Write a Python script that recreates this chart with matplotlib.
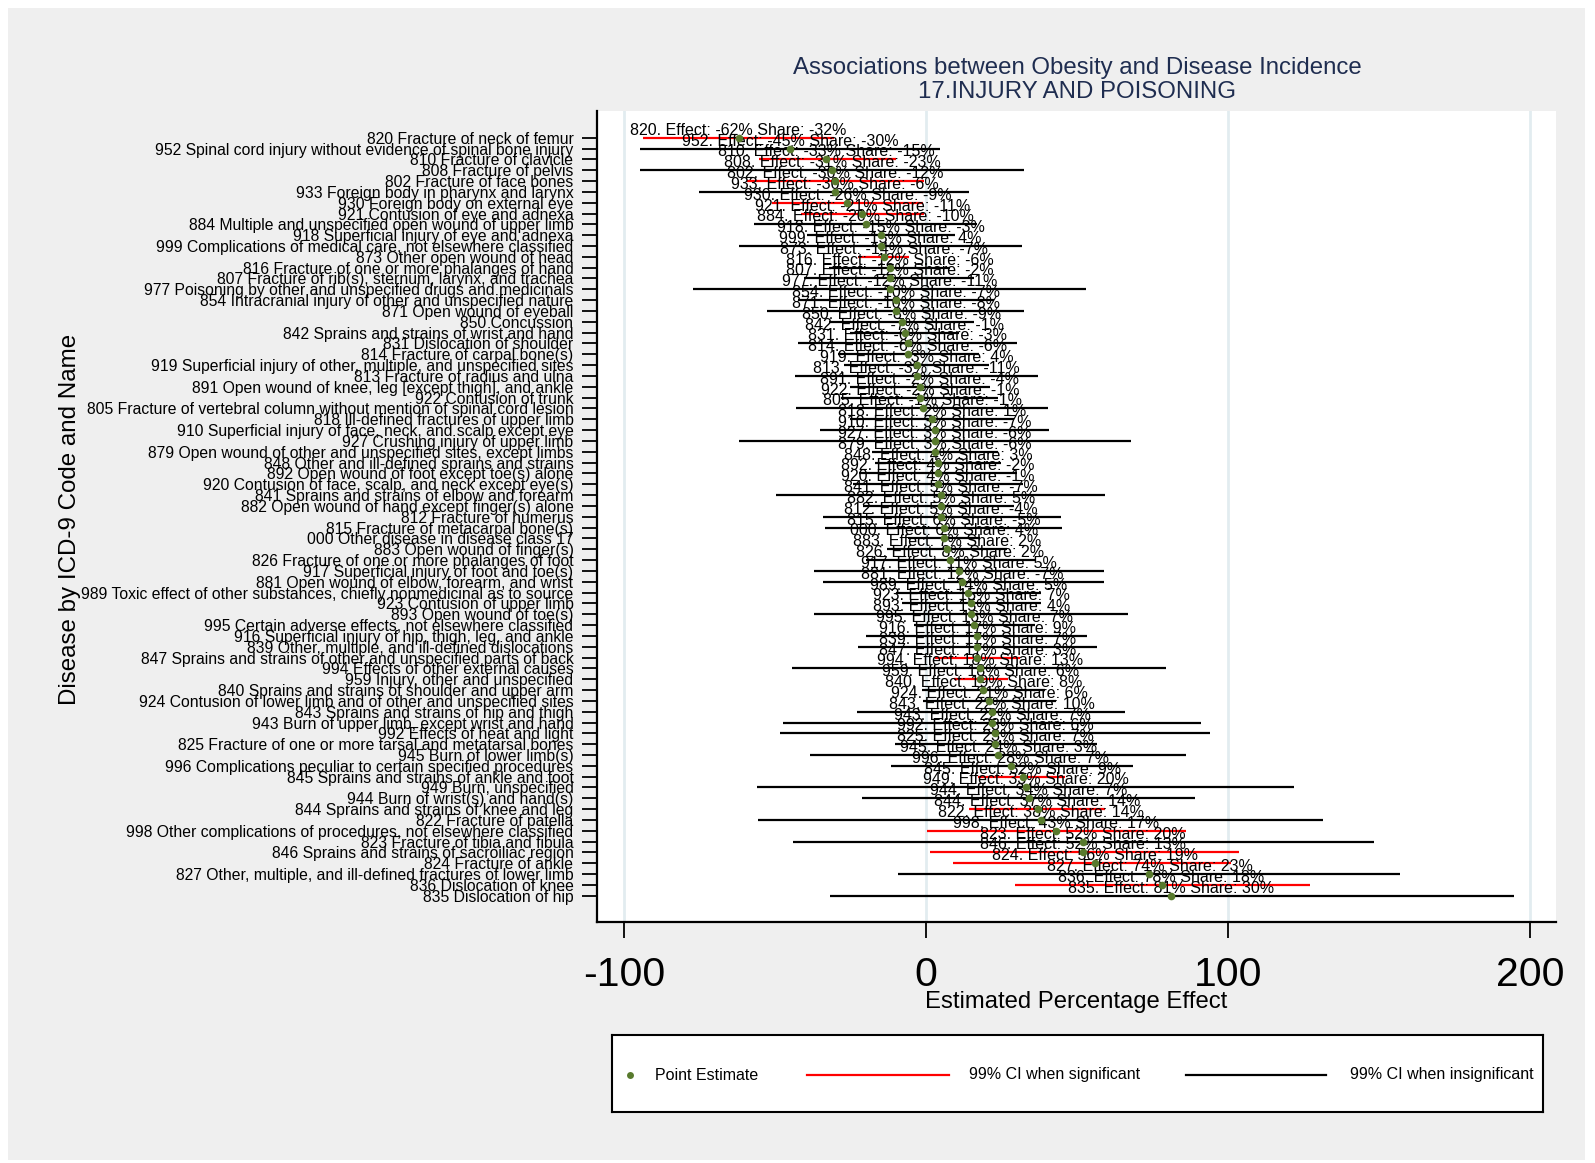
import matplotlib
matplotlib.use("Agg")
import matplotlib.pyplot as plt
from matplotlib.patches import Rectangle
import numpy as np

plt.rcParams['font.family'] = ['Liberation Sans', 'DejaVu Sans']
plt.rcParams['axes.unicode_minus'] = False

# ICD-9 codes, ordered from the most negative to the most positive effect
codes = ["820", "952", "810", "808", "802", "933", "930", "921", "884", "918",
         "999", "873", "816", "807", "977", "854", "871", "850", "842", "831",
         "814", "919", "813", "891", "922", "805", "818", "910", "927", "879",
         "848", "892", "920", "841", "882", "812", "815", "000", "883", "826",
         "917", "881", "989", "923", "893", "995", "916", "839", "847", "994",
         "959", "840", "924", "843", "943", "992", "825", "945", "996", "845",
         "949", "944", "844", "822", "998", "823", "846", "824", "827", "836",
         "835"]

names = [
    "Fracture of neck of femur",
    "Spinal cord injury without evidence of spinal bone injury",
    "Fracture of clavicle",
    "Fracture of pelvis",
    "Fracture of face bones",
    "Foreign body in pharynx and larynx",
    "Foreign body on external eye",
    "Contusion of eye and adnexa",
    "Multiple and unspecified open wound of upper limb",
    "Superficial injury of eye and adnexa",
    "Complications of medical care, not elsewhere classified",
    "Other open wound of head",
    "Fracture of one or more phalanges of hand",
    "Fracture of rib(s), sternum, larynx, and trachea",
    "Poisoning by other and unspecified drugs and medicinals",
    "Intracranial injury of other and unspecified nature",
    "Open wound of eyeball",
    "Concussion",
    "Sprains and strains of wrist and hand",
    "Dislocation of shoulder",
    "Fracture of carpal bone(s)",
    "Superficial injury of other, multiple, and unspecified sites",
    "Fracture of radius and ulna",
    "Open wound of knee, leg [except thigh], and ankle",
    "Contusion of trunk",
    "Fracture of vertebral column without mention of spinal cord lesion",
    "Ill-defined fractures of upper limb",
    "Superficial injury of face, neck, and scalp except eye",
    "Crushing injury of upper limb",
    "Open wound of other and unspecified sites, except limbs",
    "Other and ill-defined sprains and strains",
    "Open wound of foot except toe(s) alone",
    "Contusion of face, scalp, and neck except eye(s)",
    "Sprains and strains of elbow and forearm",
    "Open wound of hand except finger(s) alone",
    "Fracture of humerus",
    "Fracture of metacarpal bone(s)",
    "Other disease in disease class 17",
    "Open wound of finger(s)",
    "Fracture of one or more phalanges of foot",
    "Superficial injury of foot and toe(s)",
    "Open wound of elbow, forearm, and wrist",
    "Toxic effect of other substances, chiefly nonmedicinal as to source",
    "Contusion of upper limb",
    "Open wound of toe(s)",
    "Certain adverse effects, not elsewhere classified",
    "Superficial injury of hip, thigh, leg, and ankle",
    "Other, multiple, and ill-defined dislocations",
    "Sprains and strains of other and unspecified parts of back",
    "Effects of other external causes",
    "Injury, other and unspecified",
    "Sprains and strains of shoulder and upper arm",
    "Contusion of lower limb and of other and unspecified sites",
    "Sprains and strains of hip and thigh",
    "Burn of upper limb, except wrist and hand",
    "Effects of heat and light",
    "Fracture of one or more tarsal and metatarsal bones",
    "Burn of lower limb(s)",
    "Complications peculiar to certain specified procedures",
    "Sprains and strains of ankle and foot",
    "Burn, unspecified",
    "Burn of wrist(s) and hand(s)",
    "Sprains and strains of knee and leg",
    "Fracture of patella",
    "Other complications of procedures, not elsewhere classified",
    "Fracture of tibia and fibula",
    "Sprains and strains of sacroiliac region",
    "Fracture of ankle",
    "Other, multiple, and ill-defined fractures of lower limb",
    "Dislocation of knee",
    "Dislocation of hip",
]

# Estimated percentage effect and share
effect = [-62, -45, -33, -31, -30, -30, -26, -21, -20, -15,
          -15, -14, -12, -12, -12, -10, -10, -8, -7, -6,
          -6, -3, -3, -2, -2, -1, 2, 3, 3, 3,
          4, 4, 4, 5, 5, 5, 6, 6, 7, 8,
          11, 12, 14, 15, 15, 16, 17, 17, 17, 18,
          18, 19, 21, 22, 22, 23, 23, 24, 28, 32,
          33, 34, 37, 38, 43, 52, 52, 56, 74, 78,
          81]

share = [-32, -30, -15, -23, -12, -6, -9, -11, -10, -3,
         4, -7, -6, -2, -11, -7, -8, -9, -1, -3,
         -6, 4, -11, -4, -1, -1, 1, -7, -6, -6,
         3, -2, -1, -7, 5, -4, -5, 4, 2, 2,
         5, -7, 5, 7, 4, 7, 9, 7, 3, 13,
         6, 8, 6, 10, 7, 6, 7, 3, 7, 9,
         20, 7, 14, 14, 17, 20, 13, 19, 23, 18,
         30]

# 99% confidence interval bounds
ci_low = [-93.7, -94.5, -55.4, -94.5, -59.2, -75.2, -51.0, -41.5, -57.0, -39.5,
          -61.8, -22.5, -32.0, -40.5, -77.0, -42.3, -52.5, -32.0, -25.0, -42.3,
          -29.0, -27.0, -43.3, -25.2, -28.0, -42.9, -25.0, -35.0, -61.8, -18.0,
          -17.0, -22.0, -24.0, -49.8, -20.8, -34.0, -33.5, -6.0, -13.0, -20.0,
          -37.2, -34.1, -10.0, -8.0, -37.2, -4.0, -19.8, -22.5, 3.0, -44.2,
          9.2, -1.3, -1.0, -22.8, -47.3, -48.4, -10.3, -38.5, -11.5, 17.4,
          -55.9, -21.1, 14.3, -55.5, 0.3, -44.1, 1.4, 9.0, -9.4, 29.5,
          -31.8]

ci_high = [-30.3, 4.5, -10.0, 32.4, -0.8, 14.1, -1.0, -0.5, 17.0, 9.5,
           31.8, -5.5, 8.0, 16.0, 53.0, 22.5, 32.5, 16.0, 11.0, 30.0,
           17.5, 21.0, 37.2, 21.2, 24.0, 40.4, 29.0, 40.7, 68.0, 24.0,
           25.0, 30.0, 32.0, 59.2, 29.0, 44.8, 45.0, 18.0, 27.0, 36.0,
           58.8, 58.8, 38.0, 38.0, 67.0, 36.0, 53.2, 56.7, 31.0, 79.5,
           27.1, 39.5, 43.0, 66.0, 91.1, 94.2, 56.7, 86.0, 68.4, 45.9,
           121.9, 89.1, 59.4, 131.5, 86.0, 148.2, 103.8, 101.0, 157.0, 127.3,
           194.6]

GREEN = '#587a2d'
W, H = 1595, 1163


def fx(px):
    return px / W


def fy(py):
    return 1 - py / H


fig = plt.figure(figsize=(W / 100, H / 100), dpi=100, facecolor='white')
fig.patches.append(Rectangle((fx(8), fy(1160)), fx(1585) - fx(8), fy(8) - fy(1160),
                             transform=fig.transFigure, facecolor='#efefef',
                             edgecolor='none', zorder=-10))

ax = fig.add_axes([fx(597), fy(922), (1556 - 597) / W, (922 - 111) / H])
ax.set_facecolor('white')

n = len(codes)
pos = np.arange(1, n + 1)
lo = np.array(ci_low)
hi = np.array(ci_high)
significant = (lo > 0) | (hi < 0)
colors = np.where(significant, '#ff0000', '#000000')

ax.hlines(pos, lo, hi, colors=colors, lw=1.6, zorder=2)

for p, c, e, s in zip(pos, codes, effect, share):
    ax.annotate(f"{c}. Effect: {e}% Share: {s}%", (e, p), ha='center', va='bottom',
                fontsize=11.5, zorder=3)

ax.plot(effect, pos, 'o', color=GREEN, ms=5.5, mec='none', zorder=4)

ax.set_xlim(-108.9, 208.6)
ax.set_ylim(73.42, -1.465)
ax.set_xticks([-100, 0, 100, 200])
ax.grid(axis='x', color='#e2ecf0', lw=2, zorder=0)
ax.set_axisbelow(True)

ax.set_yticks(pos)
ax.set_yticklabels([f"{c} {nm}" for c, nm in zip(codes, names)], fontsize=11.35)
ax.tick_params(axis='y', length=11, width=1.3, pad=6)
ax.tick_params(axis='x', length=11.5, width=1.3, pad=13, labelsize=29.5)

for side in ['top', 'right']:
    ax.spines[side].set_visible(False)
for side in ['left', 'bottom']:
    ax.spines[side].set_linewidth(1.6)
    ax.spines[side].set_color('black')

# Titles and axis labels
fig.text(fx(1077), fy(68), "Associations between Obesity and Disease Incidence",
         ha='center', va='center', fontsize=17.3, color='#1f2d50')
fig.text(fx(1077), fy(92), "17.INJURY AND POISONING",
         ha='center', va='center', fontsize=17.3, color='#1f2d50')
fig.text(fx(1076), fy(1002), "Estimated Percentage Effect",
         ha='center', va='center', fontsize=17.2)
fig.text(fx(70), fy(519), "Disease by ICD-9 Code and Name", rotation=90,
         ha='center', va='center', fontsize=17.4)

# Legend box
lax = fig.add_axes([fx(612), fy(1112), (1543 - 612) / W, (1112 - 1035) / H])
lax.set_xlim(612, 1543)
lax.set_ylim(1112, 1035)
lax.set_xticks([])
lax.set_yticks([])
lax.set_facecolor('white')
for sp in lax.spines.values():
    sp.set_linewidth(1.5)
    sp.set_color('black')
ly = 1075
lax.plot([630], [ly], 'o', color=GREEN, ms=5, mec='none')
lax.text(655, ly, "Point Estimate", va='center', ha='left', fontsize=11.5)
lax.plot([807, 949], [ly, ly], color='#ff0000', lw=1.6)
lax.text(969, ly, "99% CI when significant", va='center', ha='left', fontsize=11.5)
lax.plot([1186, 1326], [ly, ly], color='black', lw=1.6)
lax.text(1350, ly, "99% CI when insignificant", va='center', ha='left', fontsize=11.5)

fig.savefig("out.png", dpi=100, facecolor=fig.get_facecolor())
